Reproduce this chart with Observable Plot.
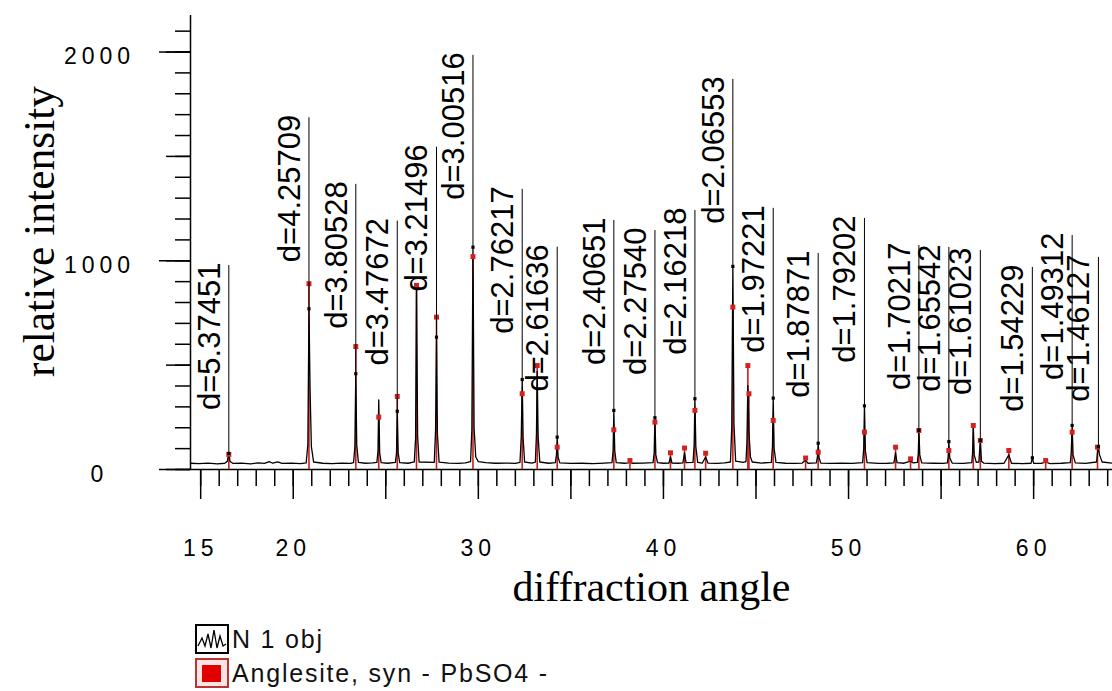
<!DOCTYPE html>
<html>
<head>
<meta charset="utf-8">
<script src="https://cdn.jsdelivr.net/npm/d3@7"></script>
<script src="https://cdn.jsdelivr.net/npm/@observablehq/plot@0.6"></script>
<style>
  body { margin: 0; background: #fff; position: relative; width: 1112px; height: 691px; overflow: hidden; }
  #chart svg { display: block; }
  /* wide-spaced axis numbers */
  g[font-size="23"] text { letter-spacing: 5px; }
  .legend-row { position: absolute; left: 195px; height: 30px; display: flex; align-items: center;
                font-family: "Liberation Sans", Arial, sans-serif; font-size: 25px; letter-spacing: 1.8px; color: #111; }
  .legend-row svg { margin-right: 3px; flex: none; }
</style>
</head>
<body>
<div id="chart"></div>
<div class="legend-row" style="top:624px">
  <svg width="34" height="30"><rect x="1" y="1" width="32" height="28" fill="#fff" stroke="#000" stroke-width="2"/>
    <polyline points="3,22 7,14 10,22 13,10 16,24 19,6 22,24 25,12 28,22 31,20" fill="none" stroke="#000" stroke-width="1.3"/></svg>
  <span>N 1 obj</span>
</div>
<div class="legend-row" style="top:658px">
  <svg width="34" height="30"><rect x="1" y="1" width="32" height="28" fill="#fbe4e4" stroke="#b33" stroke-width="2"/>
    <rect x="7" y="7" width="19" height="17" fill="#e00000"/></svg>
  <span>Anglesite, syn - PbSO4 -</span>
</div>
<script>
// Measured scan: [2θ (deg), counts]
const scan = [
  [14.45,30],[14.9,28],[15.4,31],[15.9,27],[16.30,30],[16.44,40],[16.52,77],[16.59,38],[16.75,29],[17.2,31],[17.7,27],[18.1,32],[18.45,29],[18.7,38],[18.9,30],[19.15,36],[19.4,29],[19.9,31],[20.4,28],
  [20.70,32],[20.79,120],[20.85,770],[20.91,380],[20.98,110],[21.10,36],[21.6,30],[22.1,28],[22.6,31],[23.1,29],
  [23.26,33],[23.33,110],[23.38,459],[23.43,120],[23.52,34],[23.9,30],[24.3,32],
  [24.52,34],[24.58,90],[24.62,334],[24.67,80],[24.75,33],[25.1,30],
  [25.52,34],[25.58,80],[25.62,279],[25.67,80],[25.75,33],[26.2,30],
  [26.54,36],[26.61,150],[26.66,870],[26.72,160],[26.80,36],
  [27.62,34],[27.69,190],[27.74,634],[27.79,170],[27.88,35],[28.4,31],[28.9,29],[29.3,32],
  [29.58,38],[29.65,190],[29.71,1065],[29.77,200],[29.86,60],[30.0,38],[30.4,33],[30.9,30],[31.5,31],[32.0,29],
  [32.25,34],[32.32,160],[32.37,431],[32.42,150],[32.5,36],[32.9,31],
  [33.08,35],[33.14,170],[33.18,470],[33.23,160],[33.32,36],[33.8,30],
  [34.16,33],[34.22,70],[34.26,155],[34.31,60],[34.4,32],[35.0,29],[35.6,30],[36.2,28],[36.8,31],
  [37.22,33],[37.28,90],[37.32,283],[37.37,90],[37.45,33],[37.9,30],[38.1,32],[38.19,35],[38.3,30],[38.9,31],
  [39.44,33],[39.50,80],[39.54,248],[39.59,70],[39.68,33],[40.0,30],[40.3,31],[40.38,60],[40.46,31],[40.8,30],[41.05,32],[41.14,80],[41.22,33],
  [41.60,34],[41.66,120],[41.70,339],[41.75,110],[41.85,34],[42.1,31],[42.28,60],[42.4,31],[42.9,29],[43.3,32],
  [43.62,36],[43.69,200],[43.75,973],[43.81,220],[43.9,40],[44.3,34],
  [44.46,38],[44.51,130],[44.56,402],[44.62,180],[44.70,60],[44.8,36],[45.3,31],
  [45.83,34],[45.89,110],[45.93,342],[45.98,100],[46.08,34],[46.6,30],[47.1,29],[47.5,31],[47.68,45],[47.8,30],
  [48.26,32],[48.32,60],[48.36,126],[48.41,55],[48.5,31],[49.1,29],[49.6,31],[50.2,29],
  [50.76,33],[50.82,100],[50.86,305],[50.91,90],[51.0,33],[51.6,29],[52.1,30],[52.45,32],[52.54,80],[52.62,33],[53.0,30],[53.35,40],[53.5,32],
  [53.72,34],[53.77,80],[53.80,187],[53.85,70],[53.95,32],[54.6,30],[55.1,29],
  [55.34,32],[55.38,60],[55.42,134],[55.47,55],[55.6,31],[56.2,29],
  [56.66,33],[56.70,80],[56.74,200],[56.79,70],[56.9,34],[57.04,36],[57.12,139],[57.18,40],[57.3,31],[57.9,28],[58.4,30],[58.66,70],[58.8,30],[59.4,28],
  [59.86,30],[59.93,56],[60.0,30],[60.4,29],[60.65,35],[60.9,28],[61.5,30],
  [61.98,33],[62.03,80],[62.08,211],[62.13,70],[62.25,32],[62.8,29],
  [63.40,36],[63.45,80],[63.50,110],[63.56,70],[63.7,36],[64.26,30]
];

// Anglesite, syn (PbSO4) reference lines
const refAngle     = [16.52, 20.85, 23.38, 24.62, 25.62, 26.66, 27.74, 29.71, 32.37, 33.18, 34.26, 37.32, 38.19, 39.54, 40.38, 41.14, 41.70, 42.28, 43.75, 44.56, 44.62, 45.93, 47.68, 48.36, 50.86, 52.54, 53.35, 53.80, 55.42, 56.74, 57.12, 58.66, 60.65, 62.08, 63.45];
const refIntensity = [72, 890, 589, 251, 350, 882, 730, 1020, 363, 498, 107, 190, 43, 227, 80, 103, 283, 78, 778, 498, 363, 235, 55, 83, 179, 107, 51, 187, 91, 211, 139, 91, 43, 179, 107];

// Peak labels: d-spacing, position, label height and peak top
const dSpacing  = ["5.37451","4.25709","3.80528","3.47672","3.21496","3.00516","2.76217","2.61636","2.40651","2.27540","2.16218","2.06553","1.97221","1.87871","1.79202","1.70217","1.65542","1.61023","1.54229","1.49312","1.46127"];
const peakAngle = [16.52, 20.85, 23.38, 25.62, 27.74, 29.71, 32.37, 34.26, 37.32, 39.54, 41.70, 43.75, 45.93, 48.36, 50.86, 53.80, 55.42, 57.12, 59.93, 62.08, 63.50];
const labelTop  = [977, 1685, 1366, 1190, 1544, 1984, 1342, 1065, 1193, 1145, 1241, 1869, 1251, 1035, 1203, 1073, 1064, 1049, 968, 1121, 1016];
const peakTop   = [77, 770, 459, 279, 634, 1065, 431, 155, 283, 248, 339, 973, 342, 126, 305, 187, 134, 139, 56, 211, 110];

// Axis tick labels and titles
const xTickLabels = [15, 20, 30, 40, 50, 60];
const yTickLabels = [0, 1000, 2000];
const xTitle = "diffraction angle";
const yTitle = "relative intensity";

const scanData = scan.map(([a, c]) => ({angle: a, counts: c}));
const refs = refAngle.map((a, i) => ({angle: a, intensity: refIntensity[i]}));
const labels = dSpacing.map((d, i) => ({d, angle: peakAngle[i], top: labelTop[i], peak: peakTop[i]}));

const sans = "Liberation Sans, Arial, sans-serif";
const serif = "Liberation Serif, Times New Roman, serif";
const refColor = "#c81e1e";

const chart = Plot.plot({
  width: 1112,
  height: 615,
  marginLeft: 190,
  marginRight: 0,
  marginTop: 15,
  marginBottom: 146,
  x: {domain: [14.45, 64.26]},
  y: {domain: [0, 2175]},
  style: {fontFamily: sans, background: "#fff", color: "#000", overflow: "visible"},
  marks: [
    // tick marks
    Plot.axisX({ticks: 50, tickSize: 17, tickFormat: () => "", strokeWidth: 1.5, label: null}),
    Plot.axisX({ticks: 10, tickSize: 30, tickFormat: () => "", strokeWidth: 1.5, label: null}),
    Plot.axisY({ticks: 22, tickSize: 15, tickFormat: () => "", strokeWidth: 1.5, label: null}),
    Plot.axisY({ticks: 5, tickSize: 24, tickFormat: () => "", strokeWidth: 1.5, label: null}),
    Plot.axisY({ticks: yTickLabels, tickSize: 31, tickFormat: () => "", strokeWidth: 1.5, label: null}),
    // axis lines
    Plot.ruleY([0], {strokeWidth: 1.5}),
    Plot.ruleX([14.45], {strokeWidth: 1.5}),
    // reference sticks
    Plot.ruleX(refs, {x: "angle", y1: 0, y2: "intensity", stroke: refColor, strokeWidth: 1.6}),
    // measured pattern
    Plot.line(scanData, {x: "angle", y: "counts", stroke: "#000", strokeWidth: 1.3}),
    Plot.dot(refs, {x: "angle", y: "intensity", symbol: "square", r: 2.8, fill: "#d42020", stroke: null}),
    // peak labels
    Plot.ruleX(labels, {x: "angle", y1: "peak", y2: "top", stroke: "#000", strokeWidth: 1}),
    Plot.dot(labels, {x: "angle", y: "peak", symbol: "square", r: 1.8, fill: "#000", stroke: null}),
    Plot.text(labels, {x: "angle", y: "top", text: d => "d=" + d.d, rotate: -90, textAnchor: "end",
      lineAnchor: "middle", dx: -19, dy: -3, fontSize: 31, fill: "#000"}),
    // tick labels
    Plot.text(xTickLabels, {x: d => d, frameAnchor: "bottom", dy: 79, text: d => String(d),
      fontSize: 23, textAnchor: "middle", lineAnchor: "middle"}),
    Plot.text(yTickLabels, {y: d => d, frameAnchor: "left", dx: -91, dy: 5, text: d => String(d),
      fontSize: 23, textAnchor: "middle", lineAnchor: "middle"}),
    // axis titles
    Plot.text([yTitle], {frameAnchor: "left", text: d => d, rotate: -90, dx: -150, dy: -11,
      fontSize: 43.5, fontFamily: serif, textAnchor: "middle", lineAnchor: "middle"}),
    Plot.text([xTitle], {frameAnchor: "bottom", text: d => d, dy: 118,
      fontSize: 42, fontFamily: serif, textAnchor: "middle", lineAnchor: "middle"})
  ]
});

document.getElementById("chart").appendChild(chart);
</script>
</body>
</html>
